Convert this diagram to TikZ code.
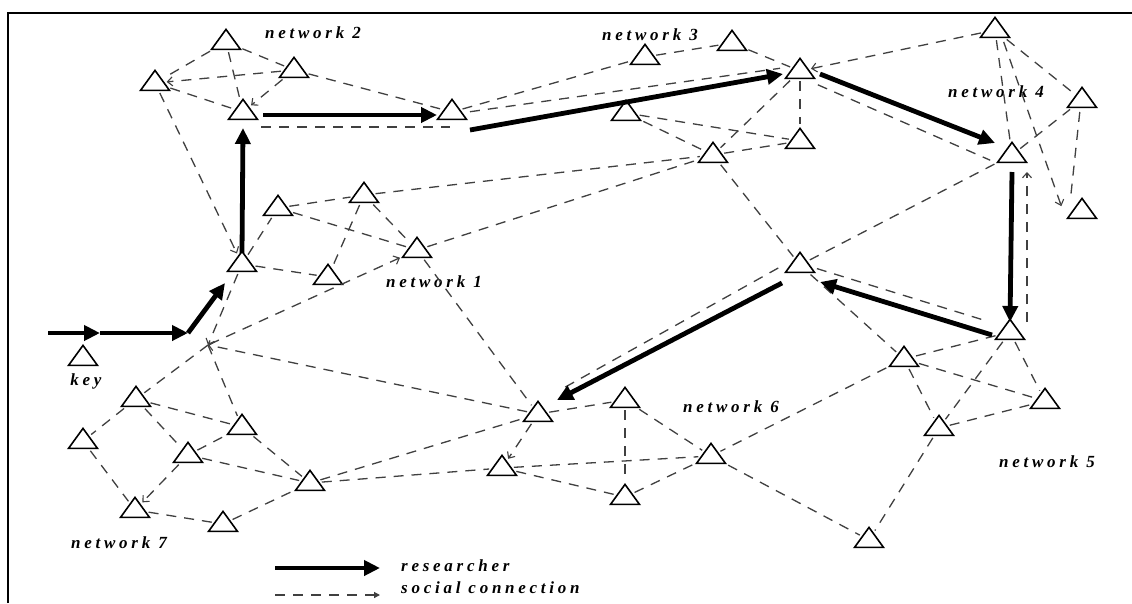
\documentclass[tikz,border=0pt]{standalone}
\usepackage{fontspec}
\newfontfamily\labfont{Liberation Serif}[LetterSpace=22]
\usetikzlibrary{shapes.geometric,arrows.meta,calc}
\begin{document}
\begin{tikzpicture}[x=1pt,y=-1pt,
  tri/.style={draw, line width=1.6pt, shape=isosceles triangle, shape border rotate=90,
    isosceles triangle stretches, minimum width=29pt, minimum height=20pt, inner sep=0pt},
  soc/.style={draw=black!75, line width=1.3pt, dash pattern=on 10pt off 8pt, shorten >=2pt, shorten <=2pt},
  socarr/.style={soc, -{Straight Barb[length=5pt,width=9pt,line width=1.1pt]}},
  res/.style={line width=4.8pt, -{Triangle[length=16pt,width=15pt]}},
  lab/.style={font={\labfont\fontsize{17}{20}\selectfont\bfseries\itshape}, inner sep=0pt}
]
\useasboundingbox (0,0) rectangle (1132,603);
\fill[white] (0,0) rectangle (1132,603);
% frame
\coordinate (F0) at (8,603); \coordinate (F1c) at (8,13); \coordinate (F2c) at (1132,13);
\draw[line width=2.2pt] (F0) -- (F1c) -- (F2c);

% network 2
\node[tri] (A1) at (226,42) {};
\node[tri] (A2) at (294,70) {};
\node[tri] (A3) at (155,83) {};
\node[tri] (A4) at (243,112) {};
% network 3
\node[tri] (B1) at (452,112) {};
\node[tri] (B2) at (645,57) {};
\node[tri] (B3) at (732,43) {};
\node[tri] (B4) at (800,71) {};
\node[tri] (B5) at (626,113) {};
\node[tri] (B6) at (713,155) {};
\node[tri] (B7) at (800,141) {};
% network 4
\node[tri] (C1) at (995,30) {};
\node[tri] (C2) at (1082,100) {};
\node[tri] (C3) at (1012,155) {};
\node[tri] (C4) at (1082,211) {};
% network 1
\node[tri] (D1) at (278,208) {};
\node[tri] (D2) at (364,195) {};
\node[tri] (D3) at (417,250) {};
\node[tri] (D4) at (328,277) {};
\node[tri] (D5) at (242,264) {};
% network 5
\node[tri] (E1) at (800,265) {};
\node[tri] (E2) at (1010,332) {};
\node[tri] (E3) at (904,359) {};
\node[tri] (E4) at (1045,401) {};
\node[tri] (E5) at (939,428) {};
\node[tri] (E6) at (869,540) {};
% network 6
\node[tri] (G6a) at (538,414) {};
\node[tri] (F2) at (625,400) {};
\node[tri] (F3) at (502,468) {};
\node[tri] (F4) at (625,497) {};
\node[tri] (F5) at (711,456) {};
% network 7
\node[tri] (G1) at (136,399) {};
\node[tri] (G2) at (83,441) {};
\node[tri] (G3) at (242,427) {};
\node[tri] (G4) at (188,455) {};
\node[tri] (G5) at (310,483) {};
\node[tri] (G6) at (135,510) {};
\node[tri] (G7) at (223,524) {};
% key
\node[tri] (K) at (83,358) {};
\coordinate (S) at (208,345);

% labels
\node[lab] (l2) at (313,33) {network 2};
\node[lab] (l3) at (650,35) {network 3};
\node[lab] (l4) at (996,92) {network 4};
\node[lab] (l1) at (434,282) {network 1};
\node[lab] (lk) at (86,381) {key};
\node[lab] (l6) at (731,407) {network 6};
\node[lab] (l5) at (1047,462) {network 5};
\node[lab] (l7) at (119,543) {network 7};
\node[lab, anchor=west] (lr) at (401,566) {researcher};
\node[lab, anchor=west] (ls) at (401,588) {social connection};

% social connections: network 2
\draw[soc] (A1) -- (A2);
\draw[soc] (A1) -- (A3);
\draw[soc] (A1) -- (A4);
\draw[socarr] (A2) -- (A3);
\draw[socarr] (A2) -- (A4);
\draw[soc] (A3) -- (A4);
\draw[socarr] (A3) -- (D5);
\draw[soc] (A2) -- (B1);
\draw[soc] ($(A4)+(16,15)$) -- ($(B1)+(0,15)$);
% network 3
\draw[soc] (B1) -- (B2);
\draw[soc] ($(B1)+(16,0)$) -- ($(B4)+(-18,-3)$);
\draw[soc] (B2) -- (B3);
\draw[soc] (B3) -- (B4);
\draw[soc] (B4) -- (B7);
\draw[soc] (B4) -- (B6);
\draw[soc] ($(B4)+(16,13)$) -- ($(C3)+(-20,6)$);
\draw[soc] (B5) -- (B7);
\draw[soc] (B5) -- (B6);
\draw[soc] (B6) -- (B7);
\draw[soc] (B6) -- (E1);
\draw[socarr] (C1) -- (B4);
% network 4
\draw[soc] (C1) -- (C2);
\draw[soc] (C1) -- (C3);
\draw[socarr] ($(C1)+(8,10)$) -- ($(C4)+(-20,-3)$);
\draw[soc] (C3) -- (C2);
\draw[soc] ($(C2)+(-2,10)$) -- ($(C4)+(-12,-8)$);
\draw[socarr] ($(E2)+(17,-8)$) -- ($(C3)+(15,15)$);
\draw[soc] (C3) -- (E1);
% network 1
\draw[soc] (D5) -- (D1);
\draw[soc] (D1) -- (D2);
\draw[soc] (D1) -- (D3);
\draw[soc] (D2) -- (D3);
\draw[soc] (D2) -- (D4);
\draw[soc] (D5) -- (D4);
\draw[soc] (D2) -- (B6);
\draw[soc] (D3) -- (B6);
\draw[socarr] (S) -- (D3);
\draw[soc] (D3) -- (G6a);
\draw[socarr, shorten >=0pt] (D5) -- (S);
% star
\draw[soc, shorten <=0pt] (S) -- (G1);
\draw[soc, shorten <=0pt] (S) -- (G3);
\draw[socarr, shorten >=0pt] (G6a) -- (S);
% network 5
\draw[soc] ($(E1)+(15,3)$) -- ($(E2)+(-20,-10)$);
\draw[soc] ($(E1)+(-20,2)$) -- ($(G6a)+(22,-24)$);
\draw[soc] (E1) -- (E3);
\draw[soc] (E2) -- (E3);
\draw[soc] (E2) -- (E4);
\draw[soc] (E2) -- (E5);
\draw[soc] (E3) -- (E4);
\draw[soc] (E3) -- (E5);
\draw[soc] (E5) -- (E4);
\draw[soc] (E5) -- (E6);
\draw[soc] (E3) -- (F5);
\draw[soc] (F5) -- (E6);
% network 6
\draw[soc] (G6a) -- (F2);
\draw[soc] (F2) -- (F4);
\draw[soc] (F2) -- (F5);
\draw[socarr] (G6a) -- (F3);
\draw[soc] (F3) -- (F5);
\draw[soc] (F3) -- (F4);
\draw[soc] (F4) -- (F5);
\draw[soc] (G5) -- (G6a);
\draw[soc] (G5) -- (F3);
% network 7
\draw[soc] (G1) -- (G2);
\draw[soc] (G1) -- (G3);
\draw[soc] (G1) -- (G4);
\draw[soc] (G2) -- (G6);
\draw[soc] (G4) -- (G3);
\draw[soc] (G4) -- (G5);
\draw[socarr] (G4) -- (G6);
\draw[soc] (G3) -- (G5);
\draw[soc] (G6) -- (G7);
\draw[soc] (G7) -- (G5);

% researcher path
\coordinate (k0) at (48,333);
\coordinate (k1) at (100,333);
\coordinate (k2) at (188,333);
\draw[res] (k0) -- (k1);
\draw[res] (k1) -- (k2);
\draw[res] (k2) -- ($(D5)+(-17,19)$);
\draw[res] ($(D5)+(0,-11)$) -- ($(A4)+(0,16)$);
\draw[res] ($(A4)+(20,3)$) -- ($(B1)+(-15,3)$);
\draw[res] ($(B1)+(18,18)$) -- ($(B4)+(-17,3)$);
\draw[res] ($(B4)+(20,3)$) -- ($(C3)+(-17,-12)$);
\draw[res] ($(C3)+(0,17)$) -- ($(E2)+(0,-10)$);
\draw[res] ($(E2)+(-18,3)$) -- ($(E1)+(20,17)$);
\draw[res] ($(E1)+(-18,18)$) -- ($(G6a)+(19,-14)$);

% legend
\coordinate (La) at (275,568); \coordinate (Lb) at (380,568);
\coordinate (Ma) at (275,595); \coordinate (Mb) at (380,595);
\draw[res] (La) -- (Lb);
\draw[soc, shorten <=0pt, shorten >=0pt, -{Triangle[length=6pt,width=6pt]}] (Ma) -- (Mb);
\end{tikzpicture}
\end{document}
